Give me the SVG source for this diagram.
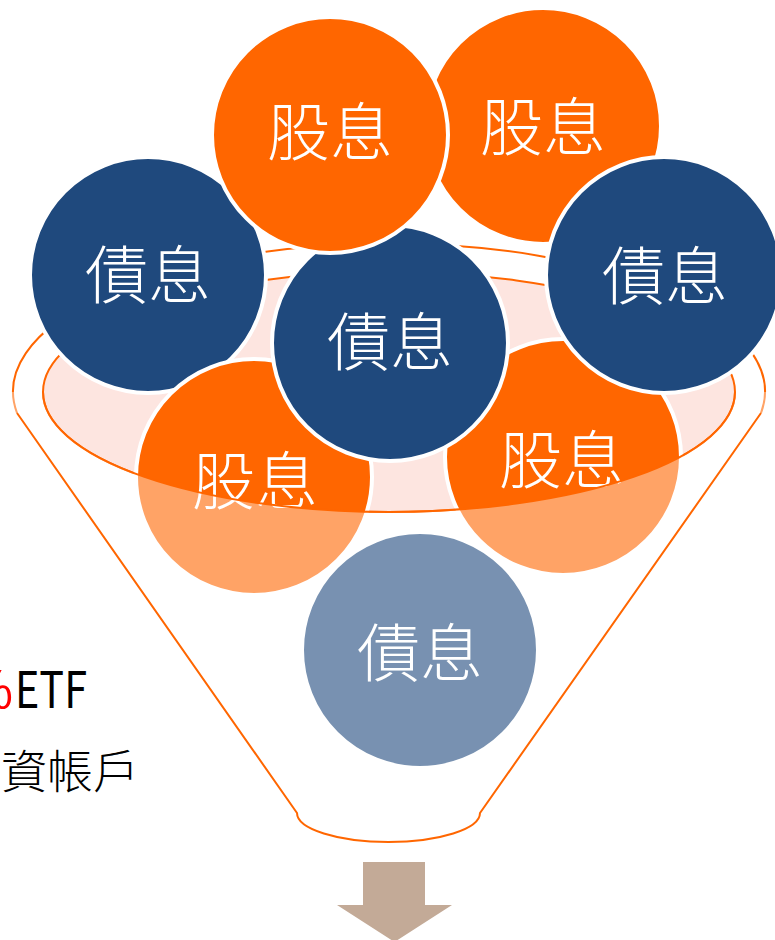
<svg xmlns="http://www.w3.org/2000/svg" width="775" height="940" viewBox="0 0 775 940">
<style>
.ball{stroke:#FFFFFF;stroke-width:4}
.orange{fill:#FF6600}
.blue{fill:#1F497D}
.lbl{fill:#FFFFFF;font-family:"Noto Sans CJK TC","Noto Sans CJK SC",sans-serif;font-weight:300;font-size:63px;text-anchor:middle;dominant-baseline:central}
.rim{fill:none;stroke:#FF6600;stroke-width:2}
.side{font-family:"Noto Sans CJK TC","Noto Sans CJK SC",sans-serif}
</style>
<rect width="775" height="940" fill="#FFFFFF"/>
<g id="funnel-back">
  <path class="rim" d="M17,413 A376,148 0 1 1 761,413"/>
  <ellipse cx="389" cy="392" rx="346" ry="120" fill="#FDE5E0" stroke="#FF6600" stroke-width="2"/>
</g>
<g id="node-dividend-top-right"><circle class="ball orange" cx="543" cy="126" r="118"/><text class="lbl" x="543" y="122">股息</text></g>
<g id="node-interest-left"><circle class="ball blue" cx="148" cy="275" r="118"/><text class="lbl" x="148" y="270">債息</text></g>
<g id="node-dividend-low-left"><circle class="ball orange" cx="254" cy="477" r="118"/><text class="lbl" x="255" y="476">股息</text></g>
<g id="node-dividend-low-right"><circle class="ball orange" cx="563" cy="457" r="118"/><text class="lbl" x="562" y="455">股息</text></g>
<g id="node-interest-right"><circle class="ball blue" cx="664" cy="275" r="118"/><text class="lbl" x="665" y="271">債息</text></g>
<g id="node-interest-center"><circle class="ball blue" cx="390" cy="343" r="118"/><text class="lbl" x="390" y="337">債息</text></g>
<g id="node-dividend-top"><circle class="ball orange" cx="330" cy="135" r="118"/><text class="lbl" x="330" y="127">股息</text></g>
<g id="node-interest-bottom"><circle class="ball blue" cx="420" cy="650" r="118"/><text class="lbl" x="420" y="648">債息</text></g>
<path id="funnel-veil" d="M43,392 A346,120 0 0 0 735,392 L775,392 L775,860 L0,860 L0,392 Z" fill="#FFFFFF" fill-opacity="0.4"/>
<g id="connectors">
  <path class="rim" d="M43,392 A346,120 0 0 0 735,392"/>
  <path class="rim" d="M17,413 L297,813 A91.5,29 0 0 0 480,813 L761,413"/>
</g>
<g id="side-text">
  <text class="side" x="13" y="708" font-size="50" fill="#FF0000" text-anchor="end">%</text>
  <text class="side" x="15" y="708" font-size="50" fill="#000000" textLength="72" lengthAdjust="spacingAndGlyphs">ETF</text>
  <text class="side" x="139" y="788" font-size="46" font-weight="300" fill="#000000" text-anchor="end">資帳戶</text>
</g>
<g id="arrow-down">
  <polygon points="363,862 425,862 425,905 452,905 394.5,942 337,905 363,905" fill="#C3AA97"/>
</g>
</svg>
